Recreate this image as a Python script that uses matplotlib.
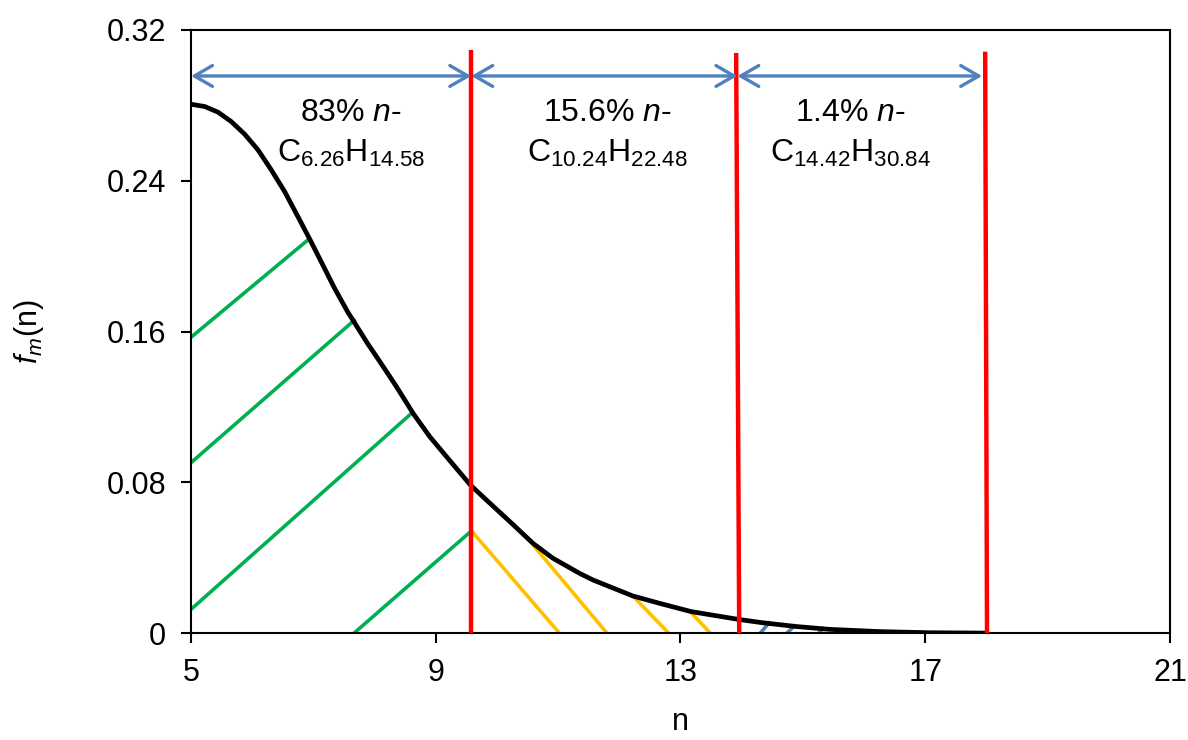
import matplotlib
matplotlib.use("Agg")
import matplotlib.pyplot as plt
from matplotlib.patches import ArrowStyle

plt.rcParams['font.family'] = ['Liberation Sans', 'DejaVu Sans']
plt.rcParams['mathtext.fontset'] = 'custom'
plt.rcParams['mathtext.rm'] = 'Liberation Sans'
plt.rcParams['mathtext.it'] = 'Liberation Sans:italic'
plt.rcParams['mathtext.bf'] = 'Liberation Sans:bold'

# ---- data ----
curve_n = [5.0, 5.224, 5.441, 5.658, 5.877, 6.094, 6.311, 6.530, 6.747, 6.938,
           7.127, 7.346, 7.56, 7.890, 8.086, 8.358, 8.629, 8.902, 9.175, 9.57,
           9.828, 10.262, 10.589, 10.915, 11.351, 11.568, 12.221, 12.657, 13.175,
           13.96, 14.34, 14.89, 15.43, 16.25, 17.07, 18.0]
curve_f = [0.2806, 0.2794, 0.2764, 0.2714, 0.2647, 0.2564, 0.2458, 0.2343, 0.2210,
           0.2092, 0.1971, 0.1830, 0.1705, 0.1535, 0.1441, 0.1308, 0.1167, 0.1043,
           0.0937, 0.0785, 0.0707, 0.0577, 0.0477, 0.0398, 0.0318, 0.0283, 0.0198,
           0.0159, 0.0115, 0.0073, 0.0056, 0.0036, 0.0021, 0.0009, 0.0003, 0.0001]

# cut-off lines (n at bottom, n at top, top value)
cut_n_bottom = [9.58, 13.96, 18.01]
cut_n_top = [9.58, 13.91, 17.98]
cut_top = [0.3094, 0.3078, 0.3085]

# range arrows
arrow_start = [5.0, 9.58, 13.93]
arrow_end = [9.58, 13.93, 17.93]
arrow_y = 0.2956

# hatch segments: (n0, f0, n1, f1)
green_hatch = [(5.0, 0.157, 6.943, 0.2095),
               (5.0, 0.0905, 7.689, 0.1666),
               (5.0, 0.0127, 8.629, 0.1174),
               (7.661, 0.0, 9.583, 0.0543)]
yellow_hatch = [(9.583, 0.0543, 11.024, 0.0),
                (10.589, 0.0469, 11.80, 0.0),
                (12.221, 0.0198, 12.809, 0.0),
                (13.159, 0.0115, 13.490, 0.0)]
blue_hatch = [(14.301, 0.0, 14.465, 0.0062),
              (14.736, 0.0, 14.878, 0.0044),
              (15.258, 0.0003, 15.351, 0.0030)]

label_line1 = ['83% $n$-', '15.6% $n$-', '1.4% $n$-']
label_line2 = [r'C$_{\mathrm{6.26}}$H$_{\mathrm{14.58}}$',
               r'C$_{\mathrm{10.24}}$H$_{\mathrm{22.48}}$',
               r'C$_{\mathrm{14.42}}$H$_{\mathrm{30.84}}$']
label_x = [7.61, 11.81, 15.78]

xticks = [5, 9, 13, 17, 21]
yticks = [0, 0.08, 0.16, 0.24, 0.32]
ytick_labels = ['0', '0.08', '0.16', '0.24', '0.32']

# ---- figure ----
fig = plt.figure(figsize=(11.88, 7.40), dpi=100)
ax = fig.add_axes([0.1608, 0.1442, 0.8240, 0.8153])

GREEN = '#00B050'
YELLOW = '#FFC000'
BLUE = '#4F81BD'
RED = '#FF0000'

for n0, f0, n1, f1 in green_hatch:
    ax.plot([n0, n1], [f0, f1], color=GREEN, lw=2.6, solid_capstyle='butt', zorder=2)
for n0, f0, n1, f1 in yellow_hatch:
    ax.plot([n0, n1], [f0, f1], color=YELLOW, lw=2.6, solid_capstyle='butt', zorder=2)
for n0, f0, n1, f1 in blue_hatch:
    ax.plot([n0, n1], [f0, f1], color=BLUE, lw=2.6, solid_capstyle='butt', zorder=2)

ax.plot(curve_n, curve_f, color='black', lw=3.4, solid_joinstyle='round',
        solid_capstyle='butt', zorder=3)

for nb, nt, top in zip(cut_n_bottom, cut_n_top, cut_top):
    ax.plot([nb, nt], [0, top], color=RED, lw=3.2, solid_capstyle='butt', zorder=4)

style = ArrowStyle('<->', head_length=1.3, head_width=0.75)
for a, b in zip(arrow_start, arrow_end):
    ax.annotate('', xy=(b, arrow_y), xytext=(a, arrow_y),
                arrowprops=dict(arrowstyle=style, color=BLUE, lw=2.4,
                                shrinkA=0, shrinkB=0, mutation_scale=10),
                zorder=5, annotation_clip=False)

for x, l1, l2 in zip(label_x, label_line1, label_line2):
    ax.text(x, 0.2762, l1, ha='center', va='center', fontsize=23, zorder=6)
    ax.text(x, 0.2545, l2, ha='center', va='center', fontsize=23, zorder=6)

ax.set_xlim(5, 21)
ax.set_ylim(0, 0.32)
ax.set_xticks(xticks)
ax.set_xticklabels([str(t) for t in xticks])
ax.set_yticks(yticks)
ax.set_yticklabels(ytick_labels)
ax.tick_params(axis='both', direction='out', length=7, width=1.5, labelsize=22, pad=11)
for s in ax.spines.values():
    s.set_linewidth(1.5)
    s.set_color('black')

ax.set_xlabel('n', fontsize=22)
ax.set_ylabel('$f_m$(n)', fontsize=22)
ax.xaxis.set_label_coords(0.5, -0.122)
ax.yaxis.set_label_coords(-0.148, 0.5)

fig.savefig('out.png', dpi=100)
